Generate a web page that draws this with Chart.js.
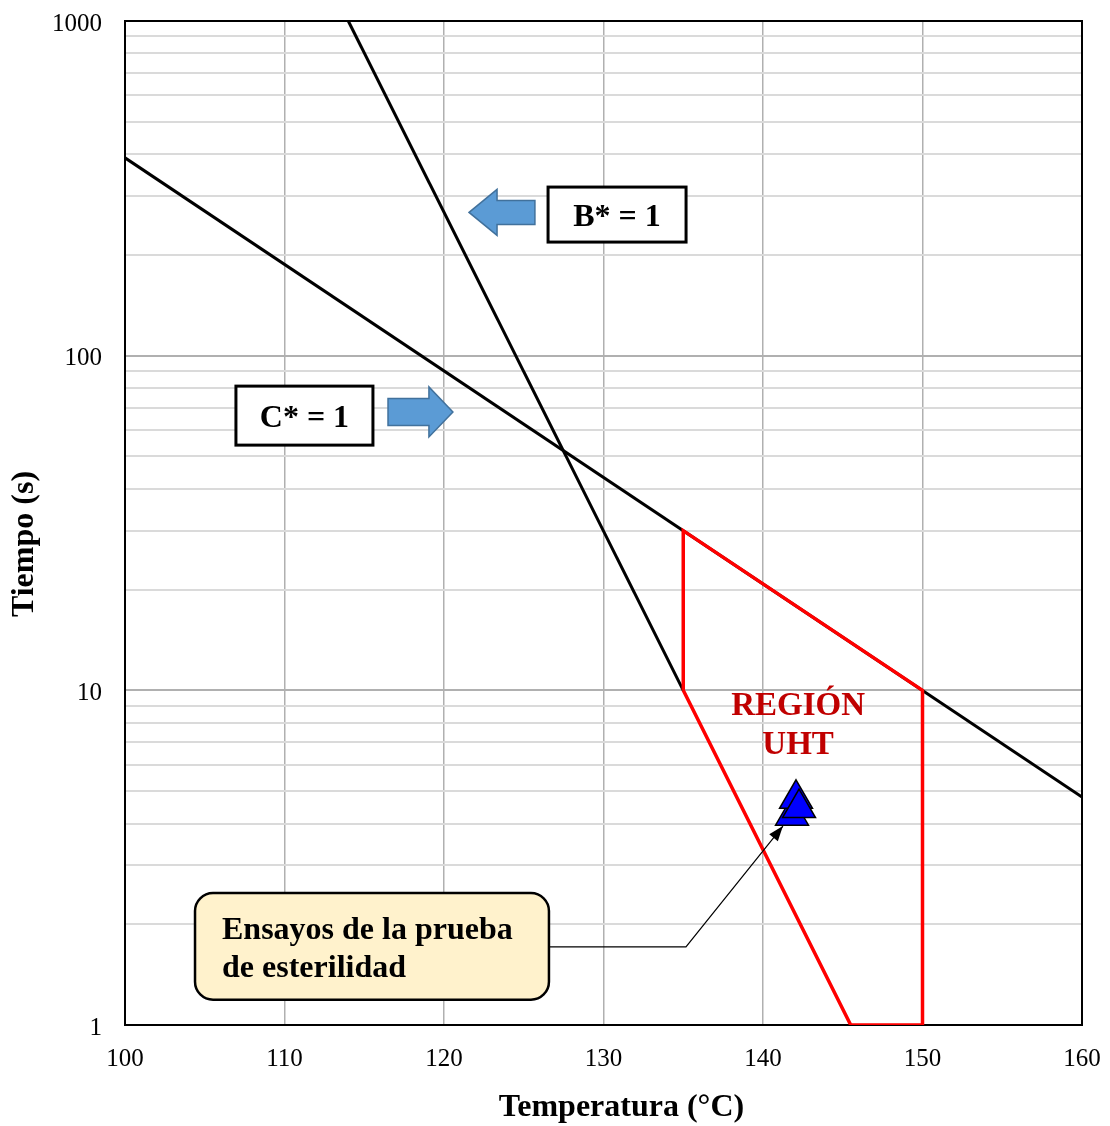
<!DOCTYPE html>
<html><head><meta charset="utf-8">
<script src="https://cdn.jsdelivr.net/npm/chart.js@4/dist/chart.umd.min.js"></script>
<style>html,body{margin:0;padding:0;background:#fff}canvas{display:block}</style>
</head><body>
<canvas id="c" width="1110" height="1126"></canvas>
<script>
// ---- data ----
const bLineTemp = [114, 135];
const bLineTime = [1000, 10];
const cLineTemp = [100, 160];
const cLineTime = [390, 4.8];
const uhtTemp = [135, 135, 150, 150, 145.5, 135];
const uhtTime = [10, 30, 10, 1, 1, 10];
const trialTemp = [141.82, 142.07, 142.26];
const trialTime = [4.22, 4.74, 4.45];
const xTickValues = [100, 110, 120, 130, 140, 150, 160];
const yTickLabels = [1, 10, 100, 1000];
const yMantissas = [1, 2, 3, 4, 5, 6, 7, 8, 9];
const xTitle = 'Temperatura (°C)';
const yTitle = 'Tiempo (s)';

const pts = (xs, ys) => xs.map((x, i) => ({x: x, y: ys[i]}));
const yGridValues = [];
yTickLabels.forEach((d, i) => {
  if (i === yTickLabels.length - 1) { yGridValues.push(d); return; }
  yMantissas.forEach(m => yGridValues.push(d * m));
});

const FONT = '"Liberation Serif", "Times New Roman", serif';
Chart.defaults.font.family = FONT;
Chart.defaults.color = '#000';

const overlay = {
  id: 'overlay',
  beforeDatasetsDraw(chart) {
    const {ctx, chartArea: a} = chart;
    ctx.save();
    ctx.strokeStyle = '#000';
    ctx.lineWidth = 2;
    ctx.strokeRect(a.left, a.top, a.right - a.left, a.bottom - a.top);
    ctx.restore();
  },
  afterDraw(chart) {
    const {ctx, chartArea: a} = chart;
    ctx.save();
    ctx.fillStyle = '#000';
    ctx.font = 'bold 32px ' + FONT;
    ctx.textAlign = 'center';
    ctx.textBaseline = 'middle';
    ctx.fillText(xTitle, (a.left + a.right) / 2 + 18, a.bottom + 83);
    ctx.translate(a.left - 100, (a.top + a.bottom) / 2 + 21);
    ctx.rotate(-Math.PI / 2);
    ctx.fillText(yTitle, 0, 0);
    ctx.restore();
  },
  afterDatasetsDraw(chart) {
    const {ctx} = chart;
    const xs = chart.scales.x, ys = chart.scales.y;
    const px = v => xs.getPixelForValue(v);
    const py = v => ys.getPixelForValue(v);
    ctx.save();

    function labelBox(cx, cy, w, h, text) {
      const x = px(cx), y = py(cy);
      ctx.fillStyle = '#fff';
      ctx.fillRect(x - w / 2, y - h / 2, w, h);
      ctx.strokeStyle = '#000';
      ctx.lineWidth = 3;
      ctx.strokeRect(x - w / 2, y - h / 2, w, h);
      ctx.fillStyle = '#000';
      ctx.font = 'bold 32px ' + FONT;
      ctx.textAlign = 'center';
      ctx.textBaseline = 'middle';
      ctx.fillText(text, x, y + 3);
    }
    labelBox(130.85, 264, 138, 55, 'B* = 1');
    labelBox(111.25, 66.2, 137, 59, 'C* = 1');

    function blockArrow(tipT, tailT, yv, shaftH, headH, headL) {
      const tx = px(tipT), bx = px(tailT), y = py(yv);
      const dir = Math.sign(bx - tx);
      const hx = tx + dir * headL;
      ctx.beginPath();
      ctx.moveTo(tx, y);
      ctx.lineTo(hx, y - headH);
      ctx.lineTo(hx, y - shaftH);
      ctx.lineTo(bx, y - shaftH);
      ctx.lineTo(bx, y + shaftH);
      ctx.lineTo(hx, y + shaftH);
      ctx.lineTo(hx, y + headH);
      ctx.closePath();
      ctx.fillStyle = '#5b9bd5';
      ctx.fill();
      ctx.strokeStyle = '#41719c';
      ctx.lineWidth = 1.5;
      ctx.stroke();
    }
    blockArrow(121.57, 125.7, 268, 12, 23, 28);
    blockArrow(120.56, 116.49, 67.9, 13.5, 25, 24);

    ctx.fillStyle = '#c00000';
    ctx.font = 'bold 33px ' + FONT;
    ctx.textAlign = 'center';
    ctx.textBaseline = 'middle';
    ctx.fillText('REGIÓN', px(142.2), py(8.98));
    ctx.fillText('UHT', px(142.2), py(6.82));

    const bl = px(104.39), br = px(126.58), bt = py(2.48), bb = py(1.19);
    const r = 18;
    ctx.beginPath();
    ctx.moveTo(bl + r, bt);
    ctx.lineTo(br - r, bt);
    ctx.arcTo(br, bt, br, bt + r, r);
    ctx.lineTo(br, bb - r);
    ctx.arcTo(br, bb, br - r, bb, r);
    ctx.lineTo(bl + r, bb);
    ctx.arcTo(bl, bb, bl, bb - r, r);
    ctx.lineTo(bl, bt + r);
    ctx.arcTo(bl, bt, bl + r, bt, r);
    ctx.closePath();
    ctx.fillStyle = '#fff2cc';
    ctx.fill();
    ctx.strokeStyle = '#000';
    ctx.lineWidth = 2.5;
    ctx.stroke();
    ctx.fillStyle = '#000';
    ctx.font = 'bold 32px ' + FONT;
    ctx.textAlign = 'left';
    ctx.textBaseline = 'middle';
    ctx.fillText('Ensayos de la prueba', bl + 27, bt + 38);
    ctx.fillText('de esterilidad', bl + 27, bt + 76);

    const ey = py(1.711), ex = px(135.17);
    const tipX = px(141.25), tipY = py(3.93);
    ctx.beginPath();
    ctx.moveTo(br, ey);
    ctx.lineTo(ex, ey);
    ctx.lineTo(tipX, tipY);
    ctx.lineWidth = 1.2;
    ctx.stroke();
    const ang = Math.atan2(tipY - ey, tipX - ex);
    const L = 15, W = 5.5;
    ctx.beginPath();
    ctx.moveTo(tipX, tipY);
    ctx.lineTo(tipX - L * Math.cos(ang) + W * Math.sin(ang), tipY - L * Math.sin(ang) - W * Math.cos(ang));
    ctx.lineTo(tipX - L * Math.cos(ang) - W * Math.sin(ang), tipY - L * Math.sin(ang) + W * Math.cos(ang));
    ctx.closePath();
    ctx.fill();
    ctx.restore();
  }
};

new Chart(document.getElementById('c'), {
  type: 'scatter',
  data: {
    datasets: [
      {data: pts(trialTemp, trialTime), pointStyle: 'triangle', pointRadius: 19,
       backgroundColor: '#0000ff', borderColor: '#000', borderWidth: 1.5, order: 0},
      {data: pts(uhtTemp, uhtTime), showLine: true, borderColor: '#ff0000', borderWidth: 3.5,
       pointRadius: 0, fill: false, order: 1},
      {data: pts(bLineTemp, bLineTime), showLine: true, borderColor: '#000', borderWidth: 3,
       pointRadius: 0, order: 2},
      {data: pts(cLineTemp, cLineTime), showLine: true, borderColor: '#000', borderWidth: 3,
       pointRadius: 0, order: 3}
    ]
  },
  options: {
    responsive: false,
    animation: false,
    events: [],
    layout: {padding: {top: 21, right: 28, left: 0, bottom: 0}},
    plugins: {legend: {display: false}, tooltip: {enabled: false}},
    scales: {
      x: {
        type: 'linear', min: 100, max: 160,
        afterBuildTicks: s => { s.ticks = xTickValues.map(v => ({value: v})); },
        afterFit: s => { s.height = 101; s.paddingLeft = 0; s.paddingRight = 0; },
        ticks: {font: {size: 25}, color: '#000', padding: 19, autoSkip: false, maxRotation: 0},
        grid: {color: '#b0b0b0', lineWidth: 1.5, drawTicks: false},
        border: {display: false},
        title: {display: false}
      },
      y: {
        type: 'logarithmic', min: 1, max: 1000,
        afterBuildTicks: s => { s.ticks = yGridValues.map(v => ({value: v})); },
        afterFit: s => { s.width = 125; s.paddingTop = 0; s.paddingBottom = 0; },
        ticks: {font: {size: 25}, color: '#000', padding: 23, autoSkip: false, labelOffset: 3,
                callback: v => yTickLabels.includes(v) ? String(v) : ''},
        grid: {drawTicks: false, lineWidth: 2,
               color: c => (c.tick && yTickLabels.includes(c.tick.value)) ? '#b0b0b0' : '#dadada'},
        border: {display: false},
        title: {display: false}
      }
    }
  },
  plugins: [overlay]
});
</script>
</body></html>
